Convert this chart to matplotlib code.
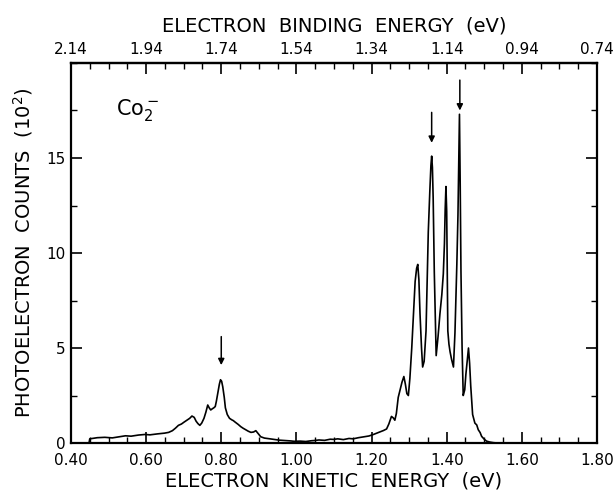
import numpy as np
import matplotlib
matplotlib.use("Agg")
import matplotlib.pyplot as plt
from matplotlib.ticker import MultipleLocator, FixedLocator

# спектр Co2-, x - кинетическая энергия (эВ), y - отсчёты (10^2)
ke = [0.448, 0.450, 0.47, 0.49, 0.51, 0.53, 0.545, 0.56, 0.58, 0.597, 0.61, 0.63,
      0.649, 0.66, 0.670, 0.678, 0.686, 0.694, 0.701, 0.71, 0.716, 0.722, 0.728,
      0.733, 0.738, 0.743, 0.748, 0.754, 0.759, 0.764, 0.768, 0.772, 0.776, 0.780,
      0.784, 0.787, 0.791, 0.795, 0.798, 0.801, 0.804, 0.808, 0.811, 0.816, 0.822,
      0.828, 0.832, 0.837, 0.845, 0.852, 0.858, 0.865, 0.872, 0.879, 0.886, 0.892,
      0.898, 0.905, 0.915, 0.93, 0.942, 0.955, 0.97, 0.985, 0.994, 1.01, 1.025,
      1.04, 1.047, 1.06, 1.075, 1.09, 1.099, 1.11, 1.125, 1.14, 1.151, 1.165,
      1.18, 1.193, 1.205, 1.214, 1.222, 1.232, 1.240, 1.246, 1.253, 1.258, 1.262,
      1.266, 1.271, 1.276, 1.281, 1.286, 1.290, 1.294, 1.298, 1.302, 1.307, 1.312,
      1.316, 1.320, 1.323, 1.326, 1.329, 1.333, 1.336, 1.340, 1.345, 1.348, 1.351,
      1.355, 1.358, 1.360, 1.362, 1.364, 1.367, 1.372, 1.377, 1.382, 1.387, 1.391,
      1.394, 1.396, 1.398, 1.400, 1.403, 1.406, 1.409, 1.413, 1.418, 1.422, 1.427,
      1.430, 1.432, 1.434, 1.436, 1.438, 1.441, 1.444, 1.448, 1.451, 1.455, 1.458,
      1.461, 1.464, 1.469, 1.475, 1.480, 1.484, 1.489, 1.493, 1.500, 1.506, 1.515,
      1.524, 1.535, 1.55]
counts = [0.0, 0.22, 0.28, 0.30, 0.27, 0.33, 0.38, 0.36, 0.42, 0.45, 0.43, 0.48,
          0.52, 0.56, 0.65, 0.78, 0.93, 1.00, 1.10, 1.22, 1.30, 1.42, 1.35,
          1.15, 1.02, 0.93, 1.05, 1.30, 1.62, 2.00, 1.85, 1.74, 1.80, 1.85,
          1.92, 2.20, 2.65, 3.10, 3.33, 3.25, 2.96, 2.40, 1.85, 1.50, 1.30,
          1.22, 1.18, 1.10, 0.98, 0.86, 0.78, 0.70, 0.62, 0.56, 0.58, 0.65,
          0.50, 0.33, 0.26, 0.22, 0.19, 0.15, 0.13, 0.11, 0.09, 0.10, 0.08,
          0.12, 0.13, 0.16, 0.14, 0.20, 0.19, 0.22, 0.18, 0.24, 0.22, 0.28,
          0.33, 0.37, 0.45, 0.52, 0.58, 0.66, 0.74, 1.00, 1.40, 1.32, 1.20,
          1.55, 2.40, 2.80, 3.20, 3.50, 3.10, 2.60, 2.50, 3.40, 5.00, 7.00,
          8.50, 9.20, 9.40, 8.60, 6.80, 5.00, 4.00, 4.30, 5.90, 8.50, 11.1,
          13.2, 14.6, 15.1, 14.5, 12.9, 9.00, 4.60, 5.60, 6.80, 7.80, 8.90,
          10.5, 12.3, 13.5, 12.2, 5.90, 5.20, 4.80, 4.40, 4.00, 5.80, 9.40,
          12.0, 14.8, 17.3, 13.5, 9.00, 5.00, 2.50, 2.80, 3.60, 4.40, 5.00,
          4.20, 3.00, 1.50, 1.05, 0.95, 0.70, 0.55, 0.35, 0.20, 0.10, 0.05,
          0.02, 0.0, 0.0]

# стрелки над пиками
arrow_x = [0.80, 1.36, 1.435]
arrow_top = [5.6, 17.4, 19.1]
arrow_tip = [4.1, 15.8, 17.5]

ke_ticks = [0.40, 0.60, 0.80, 1.00, 1.20, 1.40, 1.60, 1.80]
be_ticks = [2.14, 1.94, 1.74, 1.54, 1.34, 1.14, 0.94, 0.74]
y_ticks = [0, 5, 10, 15]

fig = plt.figure(figsize=(6.15, 4.98), dpi=100)
ax = fig.add_axes([0.1154, 0.1104, 0.8553, 0.7631])

ax.plot(ke, counts, color='black', lw=1.2)

for xa, yt, yb in zip(arrow_x, arrow_top, arrow_tip):
    ax.annotate('', xy=(xa, yb), xytext=(xa, yt),
                arrowprops=dict(arrowstyle='-|>', color='black', lw=1.1,
                                mutation_scale=9, shrinkA=0, shrinkB=0))

ax.text(0.52, 17.5, 'Co$_2^-$', fontsize=15, va='center', ha='left')

ax.set_xlim(0.40, 1.80)
ax.set_ylim(0, 20)
ax.set_xticks(ke_ticks)
ax.set_xticklabels(['%.2f' % t for t in ke_ticks])
ax.xaxis.set_minor_locator(MultipleLocator(0.05))
ax.set_yticks(y_ticks)
ax.yaxis.set_minor_locator(MultipleLocator(2.5))

ax.tick_params(which='major', direction='in', length=8, width=1.2,
               labelsize=11, right=True, pad=4)
ax.tick_params(axis='x', which='major', pad=7)
ax.tick_params(which='minor', direction='in', length=4, width=1.0, right=True)
for s in ax.spines.values():
    s.set_linewidth(1.6)

ax.set_xlabel('ELECTRON  KINETIC  ENERGY  (eV)', fontsize=14, labelpad=3)
ax.set_ylabel('PHOTOELECTRON  COUNTS  (10$^2$)', fontsize=14, labelpad=8)

# верхняя шкала - энергия связи
f = lambda x: 2.54 - x
top = ax.secondary_xaxis('top', functions=(f, f))
top.set_xticks(be_ticks)
top.set_xticklabels(['%.2f' % t for t in be_ticks])
top.xaxis.set_minor_locator(FixedLocator(np.round(2.54 - np.arange(0.40, 1.801, 0.05), 3)))
top.tick_params(which='major', direction='in', length=8, width=1.2, labelsize=11, pad=4)
top.tick_params(which='minor', direction='in', length=4, width=1.0)
top.spines['top'].set_linewidth(1.6)
top.set_xlabel('ELECTRON  BINDING  ENERGY  (eV)', fontsize=14, labelpad=8)

fig.savefig('out.png', dpi=100)
